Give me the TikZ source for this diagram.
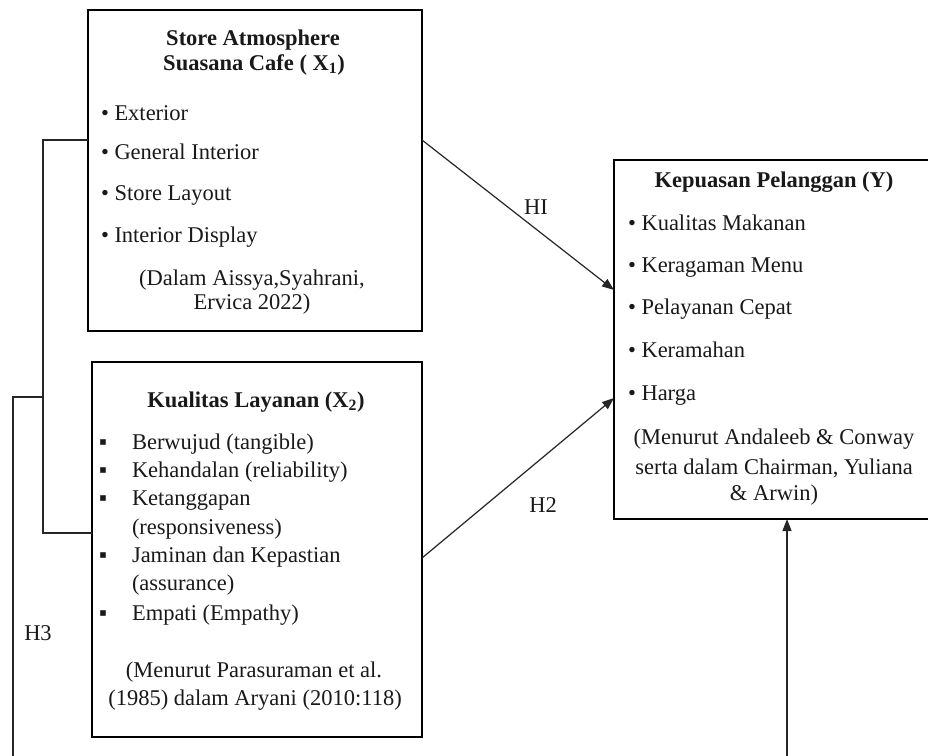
\documentclass[tikz,border=0pt]{standalone}
\usepackage{fontspec}
\setmainfont{Liberation Serif}
\usetikzlibrary{arrows.meta}
\begin{document}
\begin{tikzpicture}[x=1pt,y=-1pt,
  box/.style={draw=black,line width=1.3pt,rectangle,inner sep=0pt,outer sep=0pt},
  txt/.style={inner sep=0pt,outer sep=0pt,font=\fontsize{22.5}{27}\selectfont,text=black!90},
  ttl/.style={inner sep=0pt,outer sep=0pt,font=\fontsize{22.5}{27}\selectfont\bfseries,text=black!90},
  lnk/.style={line width=1.2pt,draw=black!85},
  arr/.style={lnk,-{Triangle[length=12pt,width=9pt]}}]
\useasboundingbox (0,0) rectangle (928,755);
% boxes
\node[box,minimum width=334pt,minimum height=321pt] (x1) at (255,170.5) {};
\node[box,minimum width=330pt,minimum height=375pt] (x2) at (257,549.5) {};
\node[box,minimum width=320pt,minimum height=359pt] (y) at (774,339.5) {};
% X1 text
\node[ttl,anchor=base] (t1a) at (253,45) {Store Atmosphere};
\node[ttl,anchor=base] (t1b) at (254,70) {Suasana Cafe ( X\textsubscript{1})};
\node[txt,anchor=base west] (b1a) at (101,120) {• Exterior};
\node[txt,anchor=base west] (b1b) at (101,159) {• General Interior};
\node[txt,anchor=base west] (b1c) at (101,200) {• Store Layout};
\node[txt,anchor=base west] (b1d) at (101,242) {• Interior Display};
\node[txt,anchor=base] (c1a) at (252,285) {(Dalam Aissya,Syahrani,};
\node[txt,anchor=base] (c1b) at (252,309) {Ervica 2022)};
% X2 text
\node[ttl,anchor=base] (t2) at (256,407) {Kualitas Layanan (X\textsubscript{2})};
\node[txt,anchor=base] (s2a) at (103,449) {▪};
\node[txt,anchor=base] (s2b) at (103,477) {▪};
\node[txt,anchor=base] (s2c) at (103,505) {▪};
\node[txt,anchor=base] (s2d) at (103,562) {▪};
\node[txt,anchor=base] (s2e) at (103,620) {▪};
\node[txt,anchor=base west] (b2a) at (132,449) {Berwujud (tangible)};
\node[txt,anchor=base west] (b2b) at (132,477) {Kehandalan (reliability)};
\node[txt,anchor=base west] (b2c) at (132,505) {Ketanggapan};
\node[txt,anchor=base west] (b2d) at (132,534) {(responsiveness)};
\node[txt,anchor=base west] (b2e) at (132,562) {Jaminan dan Kepastian};
\node[txt,anchor=base west] (b2f) at (132,590) {(assurance)};
\node[txt,anchor=base west] (b2g) at (132,620) {Empati (Empathy)};
\node[txt,anchor=base] (c2a) at (254,677) {(Menurut Parasuraman et al.};
\node[txt,anchor=base] (c2b) at (255,705) {(1985) dalam Aryani (2010:118)};
% Y text
\node[ttl,anchor=base] (t3) at (774,187) {Kepuasan Pelanggan (Y)};
\node[txt,anchor=base west] (b3a) at (628,230) {• Kualitas Makanan};
\node[txt,anchor=base west] (b3b) at (628,272) {• Keragaman Menu};
\node[txt,anchor=base west] (b3c) at (628,314) {• Pelayanan Cepat};
\node[txt,anchor=base west] (b3d) at (628,357) {• Keramahan};
\node[txt,anchor=base west] (b3e) at (628,400) {• Harga};
\node[txt,anchor=base] (c3a) at (774,444) {(Menurut Andaleeb \& Conway};
\node[txt,anchor=base] (c3b) at (774,474) {serta dalam Chairman, Yuliana};
\node[txt,anchor=base] (c3c) at (774,500) {\& Arwin)};
% labels
\node[txt,anchor=base] (h1) at (536,214) {HI};
\node[txt,anchor=base] (h2) at (543,512) {H2};
\node[txt,anchor=base] (h3) at (38,640) {H3};
% helper coordinates
\coordinate (r140) at (0,140);
\coordinate (r290) at (0,290);
\coordinate (r558) at (0,558);
\coordinate (r398) at (0,398);
\coordinate (bx) at (43,533);
\coordinate (jn) at (43,397);
\coordinate (hx) at (13,757);
\coordinate (ub) at (787,757);
% connectors
\draw[arr] (x1.east |- r140) -- (y.west |- r290);
\draw[arr] (x2.east |- r558) -- (y.west |- r398);
\draw[lnk] (x1.west |- r140) -| (bx) -- (x2.west |- bx);
\draw[lnk] (jn) -| (hx);
\draw[arr] (ub) -- (y.south -| ub);
\end{tikzpicture}
\end{document}
